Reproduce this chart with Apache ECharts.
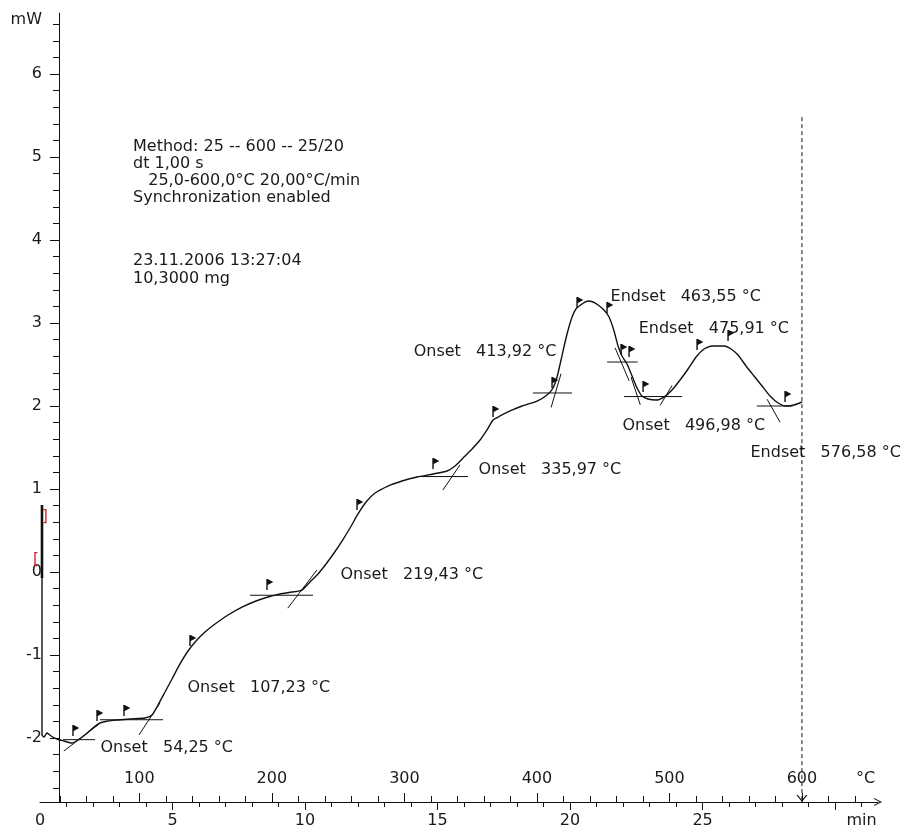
<!DOCTYPE html>
<html>
<head>
<meta charset="utf-8">
<script src="https://cdn.jsdelivr.net/npm/echarts@6/dist/echarts.min.js"></script>
<style>
  html, body { margin: 0; padding: 0; background: #fff; }
  #chart { width: 913px; height: 831px; }
</style>
</head>
<body>
<div id="chart"></div>
<script>
// DSC heating run, 25 -> 600 °C at 20 °C/min: heat flow (mW) against time (min)

// measured heat-flow curve
const timeMin = [
  0.075, 0.075, 0.151, 0.264, 0.415, 0.642, 0.906, 1.208, 1.434, 1.736, 2.038, 2.264, 2.566, 2.943, 3.396,
  3.962, 4.226, 4.453, 4.717, 4.981, 5.283, 5.585, 5.887, 6.226, 6.604, 7.094, 7.623, 8.151, 8.604, 9.057,
  9.509, 9.887, 10.189, 10.491, 10.792, 11.094, 11.396, 11.698, 12.000, 12.302, 12.642, 13.132, 13.660, 14.226, 14.830,
  15.358, 15.660, 15.962, 16.302, 16.604, 16.868, 17.094, 17.358, 17.736, 18.189, 18.755, 19.132, 19.358, 19.509, 19.660,
  19.849, 20.038, 20.226, 20.453, 20.679, 20.868, 21.057, 21.283, 21.472, 21.660, 21.811, 21.962, 22.151, 22.340, 22.528,
  22.717, 22.943, 23.245, 23.547, 23.849, 24.151, 24.453, 24.755, 25.057, 25.358, 25.811, 26.075, 26.340, 26.642, 26.943,
  27.245, 27.547, 27.849, 28.151, 28.453, 28.755
];
const heatFlow = [
  -0.072, -1.964, -1.988, -1.940, -1.976, -2.012, -2.036, -2.060, -2.024, -1.952, -1.867, -1.819, -1.795, -1.783, -1.771,
  -1.759, -1.723, -1.602, -1.446, -1.289, -1.108, -0.952, -0.831, -0.723, -0.627, -0.518, -0.422, -0.349, -0.301, -0.265,
  -0.241, -0.217, -0.120, -0.024, 0.096, 0.229, 0.373, 0.530, 0.699, 0.843, 0.952, 1.036, 1.096, 1.145, 1.181,
  1.217, 1.277, 1.373, 1.482, 1.590, 1.711, 1.831, 1.880, 1.940, 2.000, 2.060, 2.133, 2.217, 2.349, 2.554,
  2.819, 3.036, 3.169, 3.229, 3.265, 3.253, 3.217, 3.157, 3.072, 2.904, 2.723, 2.602, 2.506, 2.361, 2.217,
  2.120, 2.084, 2.072, 2.108, 2.193, 2.313, 2.446, 2.590, 2.687, 2.723, 2.723, 2.687, 2.614, 2.482, 2.361,
  2.241, 2.120, 2.036, 2.000, 2.012, 2.048
];

// start-up transient at t ≈ 0
const startTime = [0.075, 0.075];
const startHeat = [0.807, -0.072];

// evaluation marks along the curve
const flagTime = [1.245, 2.151, 3.170, 5.660, 8.566, 11.962, 14.830, 17.094, 19.321, 20.264, 21.396, 21.925, 22.226, 22.755, 24.792, 25.962, 28.113];
const flagHeat = [-1.976, -1.795, -1.735, -0.892, -0.217, 0.747, 1.241, 1.867, 2.217, 3.181, 3.120, 2.614, 2.590, 2.169, 2.675, 2.783, 2.048];

// characteristic temperatures and their constructions
const eventKinds = ['Onset', 'Onset', 'Onset', 'Onset', 'Onset', 'Endset', 'Endset', 'Onset', 'Endset'];
const eventTemps = [54.25, 107.23, 219.43, 335.97, 413.92, 463.55, 475.91, 496.98, 576.58];
const baseLevels = [-2.02, -1.78, -0.28, 1.15, 2.157, 2.53, 2.114, 2.114, 2.0];          // mW
const tangentSlopes = [0.0122, 0.0243, 0.0209, 0.0235, 0.0543, -0.0376, -0.0479, 0.0266, -0.0282]; // mW/°C
const baseFrom = [42.4, 70.3, 183.5, 309.5, 397, 453, null, 465.8, 566];                  // °C
const baseTo = [66.5, 117.8, 231, 348, 426.5, 476, null, 509.5, 593];
const tanFrom = [43, 99.7, 212, 329, 410.7, 459, 471, 493, 573.7];
const tanTo = [69, 115.6, 234, 342, 418.2, 469.6, 478, 502, 583.5];

// end of the heating segment
const endTemp = 600;
const endMarkerTop = 5.48;

// axis labels
const minuteLabels = [0, 5, 10, 15, 20, 25];
const tempLabels = [100, 200, 300, 400, 500, 600];
const heatLabels = [-2, -1, 0, 1, 2, 3, 4, 5, 6];

// run information
const methodLines = ['Method: 25 -- 600 -- 25/20', 'dt 1,00 s', '   25,0-600,0°C 20,00°C/min', 'Synchronization enabled'];
const sampleLines = ['23.11.2006 13:27:04', '10,3000 mg'];

// ---------------------------------------------------------------------------
const FONT = '"DejaVu Sans", Verdana, sans-serif';
const TXT = '#1a1a1a';
const FS = 16;

const T_MIN = 0, T_MAX = 31.62;            // minutes across the plot
const TEMP_MIN = 25, TEMP_MAX = 25 + 20 * T_MAX;
const Y_MIN = -2.771, Y_MAX = 6.735;

// note anchors (min, mW) for the temperature labels
const notePos = [[2.264, -2.12], [5.547, -1.398], [11.32, -0.036], [16.53, 1.229], [14.08, 2.651],
                 [21.51, 3.313], [22.57, 2.928], [21.96, 1.759], [26.79, 1.434]];

const fmtNum = v => v.toFixed(2).replace('.', ',');

const zip = (a, b) => a.map((v, i) => [v, b[i]]);

const minorMinuteTicks = [];
for (let m = 1; m <= 31; m++) if (m % 5) minorMinuteTicks.push(m);
const minorTempTicks = [];
for (let t = 40; t <= 640; t += 20) if (t % 100) minorTempTicks.push(t);
const minorHeatTicks = [];
for (let i = -13; i <= 33; i++) if (i % 5) minorHeatTicks.push(Math.round(i * 2) / 10);

const lineBlack = { color: '#111', width: 1 };

const constructionSeries = [];
eventTemps.forEach((T, i) => {
  if (baseFrom[i] != null) {
    constructionSeries.push({
      type: 'line', xAxisIndex: 2, yAxisIndex: 0, showSymbol: false, silent: true,
      lineStyle: { color: '#111', width: 1 },
      data: [[baseFrom[i], baseLevels[i]], [baseTo[i], baseLevels[i]]]
    });
  }
  constructionSeries.push({
    type: 'line', xAxisIndex: 2, yAxisIndex: 0, showSymbol: false, silent: true,
    lineStyle: { color: '#111', width: 1 },
    data: [
      [tanFrom[i], baseLevels[i] + tangentSlopes[i] * (tanFrom[i] - T)],
      [tanTo[i], baseLevels[i] + tangentSlopes[i] * (tanTo[i] - T)]
    ]
  });
});

const chart = echarts.init(document.getElementById('chart'), null, { renderer: 'canvas' });

chart.setOption({
  animation: false,
  backgroundColor: '#fff',
  textStyle: { fontFamily: FONT },
  grid: { left: 40, right: 35, top: 13, bottom: 29, containLabel: false, outerBoundsMode: 'none' },
  xAxis: [
    { // minutes: line, major ticks and labels below
      type: 'value', position: 'bottom', min: T_MIN, max: T_MAX,
      axisLine: { show: true, onZero: false, lineStyle: lineBlack,
        symbol: ['none', 'path://M0,10L5,0L10,10L8.6,10L5,2.8L1.4,10Z'], symbolSize: [8, 9] },
      axisTick: { show: true, customValues: [5, 10, 15, 20, 25, 30], length: 8, lineStyle: lineBlack },
      axisLabel: { customValues: minuteLabels.concat([31]), formatter: v => (v === 31 ? 'min' : String(v)),
        margin: 11, fontSize: FS, color: TXT, fontFamily: FONT },
      splitLine: { show: false }
    },
    { // minute minor ticks
      type: 'value', position: 'bottom', min: T_MIN, max: T_MAX,
      axisLine: { show: false, onZero: false },
      axisTick: { show: true, customValues: minorMinuteTicks, length: 5, lineStyle: lineBlack },
      axisLabel: { show: false }, splitLine: { show: false }
    },
    { // furnace temperature: ticks and labels above the line
      type: 'value', position: 'bottom', min: TEMP_MIN, max: TEMP_MAX,
      axisLine: { show: false, onZero: false },
      axisTick: { show: true, inside: true, customValues: tempLabels, length: 9, lineStyle: lineBlack },
      axisLabel: { inside: true, customValues: tempLabels.concat([648]),
        formatter: v => (v === 648 ? '°C' : String(v)),
        margin: 15, fontSize: FS, color: TXT, fontFamily: FONT },
      splitLine: { show: false }
    },
    { // temperature minor ticks every 20 °C
      type: 'value', position: 'bottom', min: TEMP_MIN, max: TEMP_MAX,
      axisLine: { show: false, onZero: false },
      axisTick: { show: true, inside: true, customValues: minorTempTicks, length: 6, lineStyle: lineBlack },
      axisLabel: { show: false }, splitLine: { show: false }
    }
  ],
  yAxis: [
    {
      type: 'value', position: 'left', offset: -19, min: Y_MIN, max: Y_MAX,
      axisLine: { show: true, onZero: false, lineStyle: lineBlack },
      axisTick: { show: true, customValues: heatLabels, length: 9, lineStyle: lineBlack },
      axisLabel: { customValues: heatLabels.concat([6.65]), formatter: v => (v === 6.65 ? 'mW' : String(v)),
        margin: 17, fontSize: FS, color: TXT, fontFamily: FONT },
      splitLine: { show: false }
    },
    {
      type: 'value', position: 'left', offset: -19, min: Y_MIN, max: Y_MAX,
      axisLine: { show: false, onZero: false },
      axisTick: { show: true, customValues: minorHeatTicks, length: 6, lineStyle: lineBlack },
      axisLabel: { show: false }, splitLine: { show: false }
    }
  ],
  graphic: [
    { type: 'text', left: 133, top: 138, silent: true,
      style: { text: methodLines.join('\n'), font: `${FS}px ${FONT}`, lineHeight: 17, fill: TXT } },
    { type: 'text', left: 133, top: 252, silent: true,
      style: { text: sampleLines.join('\n'), font: `${FS}px ${FONT}`, lineHeight: 18, fill: TXT } }
  ],
  series: [
    {
      name: 'Heat flow', type: 'line', xAxisIndex: 0, yAxisIndex: 0,
      showSymbol: false, smooth: 0.2, silent: true,
      lineStyle: { color: '#111', width: 1.4 },
      data: zip(timeMin, heatFlow)
    },
    {
      name: 'Start-up', type: 'line', xAxisIndex: 0, yAxisIndex: 0,
      showSymbol: false, silent: true,
      lineStyle: { color: '#111', width: 2.6 },
      data: zip(startTime, startHeat)
    },
    ...constructionSeries,
    {
      name: 'Marks', type: 'scatter', xAxisIndex: 0, yAxisIndex: 0, silent: true,
      symbol: 'path://M0,0L1.4,0L1.4,11L0,11Z M1.4,0L7,3L1.4,6Z',
      symbolSize: [7, 11], symbolOffset: [2.8, -5.5],
      itemStyle: { color: '#111', opacity: 1 },
      data: zip(flagTime, flagHeat)
    },
    {
      name: 'Notes', type: 'scatter', xAxisIndex: 0, yAxisIndex: 0, silent: true,
      symbolSize: 1, itemStyle: { color: 'rgba(0,0,0,0)', opacity: 1 },
      label: {
        show: true, position: 'right', distance: 0, fontSize: FS, color: TXT, fontFamily: FONT, opacity: 1,
        formatter: p => `${eventKinds[p.dataIndex]}   ${fmtNum(eventTemps[p.dataIndex])} °C`
      },
      data: notePos
    },
    {
      name: 'Segment end', type: 'line', xAxisIndex: 2, yAxisIndex: 0, showSymbol: false, silent: true,
      lineStyle: { color: '#111', width: 1, type: [4, 3] },
      data: [[endTemp, endMarkerTop], [endTemp, Y_MIN]]
    },
    {
      name: 'Segment end mark', type: 'scatter', xAxisIndex: 2, yAxisIndex: 0, silent: true, clip: false,
      symbol: 'path://M0,0L1.4,0L5,7.6L8.6,0L10,0L5,10Z', symbolSize: [11, 7], symbolOffset: [0, -3.5],
      itemStyle: { color: '#111', opacity: 1 },
      data: [[endTemp, Y_MIN]]
    },
    {
      name: 'Range brackets', type: 'scatter', xAxisIndex: 0, yAxisIndex: 0, silent: true, clip: false,
      symbolSize: 1, itemStyle: { color: 'rgba(0,0,0,0)', opacity: 1 },
      label: { show: true, position: 'inside', fontSize: 15, color: '#d0202a', fontFamily: FONT, opacity: 1,
        formatter: p => (p.dataIndex === 0 ? ']' : '[') },
      data: [[0.19, 0.66], [-0.15, 0.145]]
    }
  ]
});
</script>
</body>
</html>
